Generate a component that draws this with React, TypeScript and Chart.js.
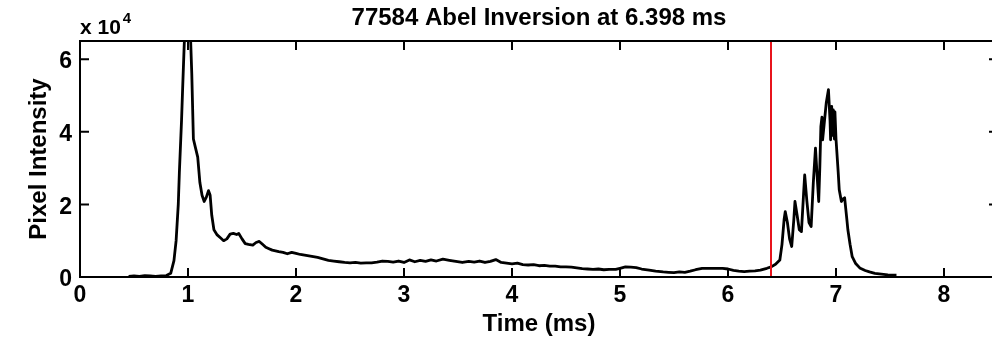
import React, { useEffect, useRef } from 'react';
import { Chart, registerables } from 'chart.js';

Chart.register(...registerables);

// ---- data (intensity in units of 1e4) ----
const timeMs = [
  0.45, 0.5, 0.55, 0.6, 0.65, 0.7, 0.75, 0.8, 0.84, 0.87, 0.89, 0.91, 0.92, 0.94, 0.95, 0.965, 0.98, 1.0, 1.02, 1.035,
  1.05, 1.07, 1.09, 1.11, 1.13, 1.15, 1.17, 1.19, 1.205, 1.22, 1.24, 1.27, 1.3, 1.33, 1.36, 1.39, 1.42, 1.45, 1.47, 1.5,
  1.53, 1.56, 1.6, 1.63, 1.66, 1.69, 1.72, 1.75, 1.78, 1.81, 1.84, 1.88, 1.92, 1.96, 2.0, 2.04, 2.08, 2.12, 2.16, 2.2,
  2.25, 2.3, 2.35, 2.4, 2.45, 2.5, 2.55, 2.6, 2.65, 2.7, 2.75, 2.8, 2.85, 2.9, 2.95, 3.0, 3.05, 3.1, 3.15, 3.2,
  3.25, 3.3, 3.36, 3.42, 3.48, 3.54, 3.6, 3.65, 3.7, 3.75, 3.8, 3.85, 3.9, 3.95, 4.0, 4.05, 4.1, 4.15, 4.2, 4.25,
  4.3, 4.35, 4.4, 4.45, 4.5, 4.55, 4.6, 4.65, 4.7, 4.75, 4.8, 4.85, 4.9, 4.96, 5.0, 5.05, 5.1, 5.15, 5.2, 5.27,
  5.33, 5.4, 5.45, 5.5, 5.55, 5.6, 5.65, 5.7, 5.76, 5.85, 5.95, 6.0, 6.05, 6.1, 6.15, 6.2, 6.25, 6.3, 6.36, 6.4,
  6.44, 6.48, 6.5, 6.52, 6.53, 6.55, 6.57, 6.59, 6.61, 6.62, 6.64, 6.66, 6.68, 6.7, 6.71, 6.73, 6.75, 6.77, 6.79, 6.81,
  6.825, 6.84, 6.85, 6.86, 6.87, 6.876, 6.89, 6.91, 6.93, 6.945, 6.95, 6.96, 6.965, 6.975, 6.985, 6.99, 7.0, 7.02, 7.03, 7.05,
  7.065, 7.08, 7.1, 7.11, 7.13, 7.15, 7.18, 7.22, 7.27, 7.31, 7.36, 7.42, 7.48, 7.52, 7.56,
];
const intensity = [
  0.02, 0.03, 0.02, 0.04, 0.03, 0.02, 0.03, 0.04, 0.1, 0.45, 1.0, 2.0, 2.87, 4.3, 5.16, 6.4, 7.2, 7.4, 6.9, 5.6,
  3.8, 3.55, 3.3, 2.6, 2.25, 2.08, 2.2, 2.38, 2.25, 1.7, 1.3, 1.16, 1.08, 1.0, 1.05, 1.18, 1.2, 1.17, 1.2, 1.05,
  0.92, 0.9, 0.88, 0.95, 0.98, 0.9, 0.82, 0.78, 0.74, 0.72, 0.7, 0.68, 0.64, 0.68, 0.65, 0.62, 0.6, 0.58, 0.56, 0.54,
  0.5, 0.46, 0.44, 0.42, 0.4, 0.39, 0.4, 0.38, 0.39, 0.39, 0.41, 0.44, 0.43, 0.41, 0.44, 0.4, 0.47, 0.42, 0.46, 0.43,
  0.47, 0.44, 0.49, 0.46, 0.43, 0.4, 0.43, 0.41, 0.44, 0.4, 0.43, 0.48, 0.4, 0.38, 0.36, 0.38, 0.34, 0.33, 0.34, 0.31,
  0.32, 0.3, 0.3, 0.28, 0.28, 0.27, 0.25, 0.23, 0.22, 0.21, 0.22, 0.2, 0.21, 0.21, 0.24, 0.28, 0.27, 0.26, 0.22, 0.19,
  0.16, 0.14, 0.13, 0.12, 0.14, 0.13, 0.16, 0.2, 0.24, 0.24, 0.24, 0.22, 0.18, 0.16, 0.15, 0.16, 0.17, 0.19, 0.24, 0.28,
  0.35, 0.47, 0.9, 1.6, 1.8, 1.5, 1.05, 0.84, 1.6, 2.08, 1.7, 1.3, 1.25, 2.3, 2.81, 2.1, 1.5, 1.39, 2.6, 3.55,
  2.8, 2.08, 3.0, 4.15, 4.4, 3.78, 4.2, 4.8, 5.16, 4.3, 3.78, 4.7, 3.9, 4.6, 3.8, 4.55, 3.8, 2.9, 2.4, 2.08,
  2.15, 2.18, 1.6, 1.3, 0.9, 0.56, 0.38, 0.25, 0.18, 0.14, 0.1, 0.08, 0.06, 0.05, 0.05,
];
const markerTime = 6.398;
const xTicks = [0, 1, 2, 3, 4, 5, 6, 7, 8];
const yTicks = [0, 2, 4, 6];
const X_MIN = 0;
const X_MAX = 8.5;
const Y_MIN = 0;
const Y_MAX = 6.5;
const titleText = '77584 Abel Inversion at 6.398 ms';
const xTitle = 'Time (ms)';
const yTitle = 'Pixel Intensity';
const exponentBase = 'x 10';
const exponentPower = '4';

const FAMILY = "'Liberation Sans', Arial, Helvetica, sans-serif";
const TICK = 9;

const framePlugin = {
  id: 'frame',
  afterDatasetsDraw(chart: any) {
    const { ctx, chartArea, scales } = chart;
    const { left, right, top, bottom } = chartArea;
    const x = scales.x;
    const y = scales.y;
    ctx.save();
    ctx.strokeStyle = '#000';
    ctx.lineWidth = 2;
    ctx.strokeRect(left, top, right - left, bottom - top);
    ctx.beginPath();
    xTicks.forEach((v) => {
      const px = x.getPixelForValue(v);
      ctx.moveTo(px, bottom);
      ctx.lineTo(px, bottom - TICK);
      ctx.moveTo(px, top);
      ctx.lineTo(px, top + TICK);
    });
    yTicks.forEach((v) => {
      const py = y.getPixelForValue(v);
      ctx.moveTo(left, py);
      ctx.lineTo(left + TICK, py);
      ctx.moveTo(right, py);
      ctx.lineTo(right - TICK, py);
    });
    ctx.stroke();

    ctx.fillStyle = '#000';
    ctx.textBaseline = 'alphabetic';
    ctx.textAlign = 'center';
    ctx.font = `bold 24px ${FAMILY}`;
    ctx.fillText(titleText, (left + right) / 2, 25);

    ctx.textAlign = 'left';
    ctx.font = `bold 21px ${FAMILY}`;
    ctx.fillText(exponentBase, left, 34);
    const w = ctx.measureText(exponentBase).width;
    ctx.font = `bold 15px ${FAMILY}`;
    ctx.fillText(exponentPower, left + w + 2, 23);
    ctx.restore();
  },
};

export default function App() {
  const canvasRef = useRef<HTMLCanvasElement | null>(null);

  useEffect(() => {
    if (!canvasRef.current) return;
    const tickFont = { family: FAMILY, weight: 'bold' as const, size: 23 };
    const titleFont = { family: FAMILY, weight: 'bold' as const, size: 24 };
    const chart = new Chart(canvasRef.current, {
      type: 'line',
      data: {
        datasets: [
          {
            label: 'marker',
            data: [
              { x: markerTime, y: Y_MIN },
              { x: markerTime, y: Y_MAX },
            ],
            borderColor: '#e8141c',
            borderWidth: 2,
            pointRadius: 0,
            tension: 0,
            clip: 0,
          },
          {
            label: 'intensity',
            data: timeMs.map((t, i) => ({ x: t, y: intensity[i] })),
            borderColor: '#000',
            borderWidth: 2.8,
            pointRadius: 0,
            tension: 0,
            borderJoinStyle: 'round',
            clip: 0,
          },
        ],
      },
      options: {
        animation: false,
        responsive: false,
        devicePixelRatio: 1,
        layout: { padding: { top: 41, right: 12, bottom: 0, left: 0 } },
        plugins: { legend: { display: false }, tooltip: { enabled: false }, title: { display: false } },
        scales: {
          x: {
            type: 'linear',
            min: X_MIN,
            max: X_MAX,
            afterBuildTicks: (s: any) => {
              s.ticks = xTicks.map((value) => ({ value }));
            },
            afterFit: (s: any) => {
              s.height = 64;
            },
            grid: { display: false, drawTicks: false },
            border: { display: false },
            ticks: {
              font: tickFont,
              color: '#000',
              padding: 5,
              maxRotation: 0,
              autoSkip: false,
              callback: (v: any) => String(v),
            },
            title: {
              display: true,
              text: xTitle,
              font: titleFont,
              color: '#000',
              padding: { top: 0, bottom: 2 },
            },
          },
          y: {
            type: 'linear',
            min: Y_MIN,
            max: Y_MAX,
            afterBuildTicks: (s: any) => {
              s.ticks = yTicks.map((value) => ({ value }));
            },
            afterFit: (s: any) => {
              s.width = 80;
            },
            grid: { display: false, drawTicks: false },
            border: { display: false },
            ticks: {
              font: tickFont,
              color: '#000',
              padding: 8,
              labelOffset: 3,
              autoSkip: false,
              callback: (v: any) => String(v),
            },
            title: {
              display: true,
              text: yTitle,
              font: titleFont,
              color: '#000',
              padding: { top: 25, bottom: 0 },
            },
          },
        },
      },
      plugins: [framePlugin],
    });
    return () => chart.destroy();
  }, []);

  return (
    <div style={{ position: 'fixed', left: 0, top: 0, width: 1010, height: 341, background: '#fff' }}>
      <canvas ref={canvasRef} width={1010} height={341} style={{ display: 'block' }} />
    </div>
  );
}
